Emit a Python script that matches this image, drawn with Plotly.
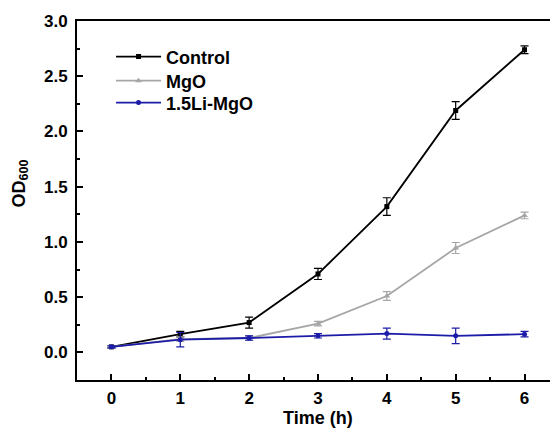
import plotly.graph_objects as go

# Growth curves: optical density at 600 nm over time
time_h = [0, 1, 2, 3, 4, 5, 6]

control_od = [0.05, 0.165, 0.27, 0.71, 1.32, 2.19, 2.74]
control_err = [0.01, 0.025, 0.05, 0.05, 0.08, 0.08, 0.035]

mgo_od = [0.05, 0.12, 0.13, 0.26, 0.51, 0.945, 1.24]
mgo_err = [0.01, 0.02, 0.02, 0.02, 0.04, 0.05, 0.03]

li_mgo_od = [0.05, 0.115, 0.13, 0.15, 0.17, 0.15, 0.165]
li_mgo_err = [0.01, 0.065, 0.02, 0.02, 0.05, 0.07, 0.025]

series_names = ["Control", "MgO", "1.5Li-MgO"]
x_ticks = [0, 1, 2, 3, 4, 5, 6]
y_ticks = [0.0, 0.5, 1.0, 1.5, 2.0, 2.5, 3.0]

FONT = "Liberation Sans, Arial, sans-serif"
colors = ["#000000", "#a6a6a6", "#1c1ca8"]
symbols = ["square", "triangle-up", "circle"]
sizes = [5, 6, 5]
legend_ids = ["legend", "legend2", "legend3"]
legend_rows = [0.900, 0.833, 0.772]

fig = go.Figure()
for name, ys, errs, color, sym, sz, lg in zip(
    series_names,
    [control_od, mgo_od, li_mgo_od],
    [control_err, mgo_err, li_mgo_err],
    colors, symbols, sizes, legend_ids,
):
    fig.add_trace(go.Scatter(
        x=time_h, y=ys, name=name, mode="lines+markers",
        line=dict(color=color, width=1.8),
        marker=dict(symbol=sym, size=sz, color=color),
        error_y=dict(type="data", array=errs, visible=True,
                     color=color, thickness=1.2, width=4),
        legend=lg,
    ))

legend_style = dict(
    xanchor="left", yanchor="middle", bgcolor="rgba(0,0,0,0)",
    font=dict(family=FONT, size=18, weight="bold", color="black"),
    itemwidth=45,
)
layout_legends = {
    lg: dict(x=0.072, y=yy, **legend_style)
    for lg, yy in zip(legend_ids, legend_rows)
}

fig.update_layout(
    width=550, height=429,
    margin=dict(l=77, r=0, t=21, b=49),
    paper_bgcolor="white", plot_bgcolor="white",
    font=dict(family=FONT, color="black"),
    showlegend=True,
    xaxis=dict(
        range=[-0.5, 6.37], tickvals=x_ticks,
        ticktext=[str(v) for v in x_ticks],
        showgrid=False, zeroline=False,
        showline=True, linecolor="black", linewidth=2, mirror=True,
        ticks="inside", ticklen=6, tickwidth=1.5, tickcolor="black",
        minor=dict(ticks="inside", ticklen=3, tickwidth=1.5,
                   tickcolor="black", dtick=0.5, tick0=0),
        tickfont=dict(family=FONT, size=17, weight="bold", color="black"),
        ticklabelstandoff=2,
    ),
    yaxis=dict(
        range=[-0.25, 3.0], tickvals=y_ticks,
        ticktext=[f"{v:.1f}" for v in y_ticks],
        showgrid=False, zeroline=False,
        showline=True, linecolor="black", linewidth=2, mirror=False,
        ticks="inside", ticklen=6, tickwidth=1.5, tickcolor="black",
        minor=dict(ticks="inside", ticklen=3, tickwidth=1.5,
                   tickcolor="black", dtick=0.25, tick0=0),
        tickfont=dict(family=FONT, size=17, weight="bold", color="black"),
        ticklabelstandoff=4,
    ),
    **layout_legends,
)

fig.add_annotation(
    text="<b>Time (h)</b>", x=3, xref="x", y=0, yref="paper",
    yshift=-38, yanchor="middle", showarrow=False,
    font=dict(family=FONT, size=18, color="black"),
)
fig.add_annotation(
    text="<b>OD<sub>600</sub></b>", x=0, xref="paper", xshift=-57,
    xanchor="center", y=0.5, yref="paper", yshift=17, textangle=-90,
    showarrow=False,
    font=dict(family=FONT, size=18, color="black"),
)

fig.write_html("out.html")
